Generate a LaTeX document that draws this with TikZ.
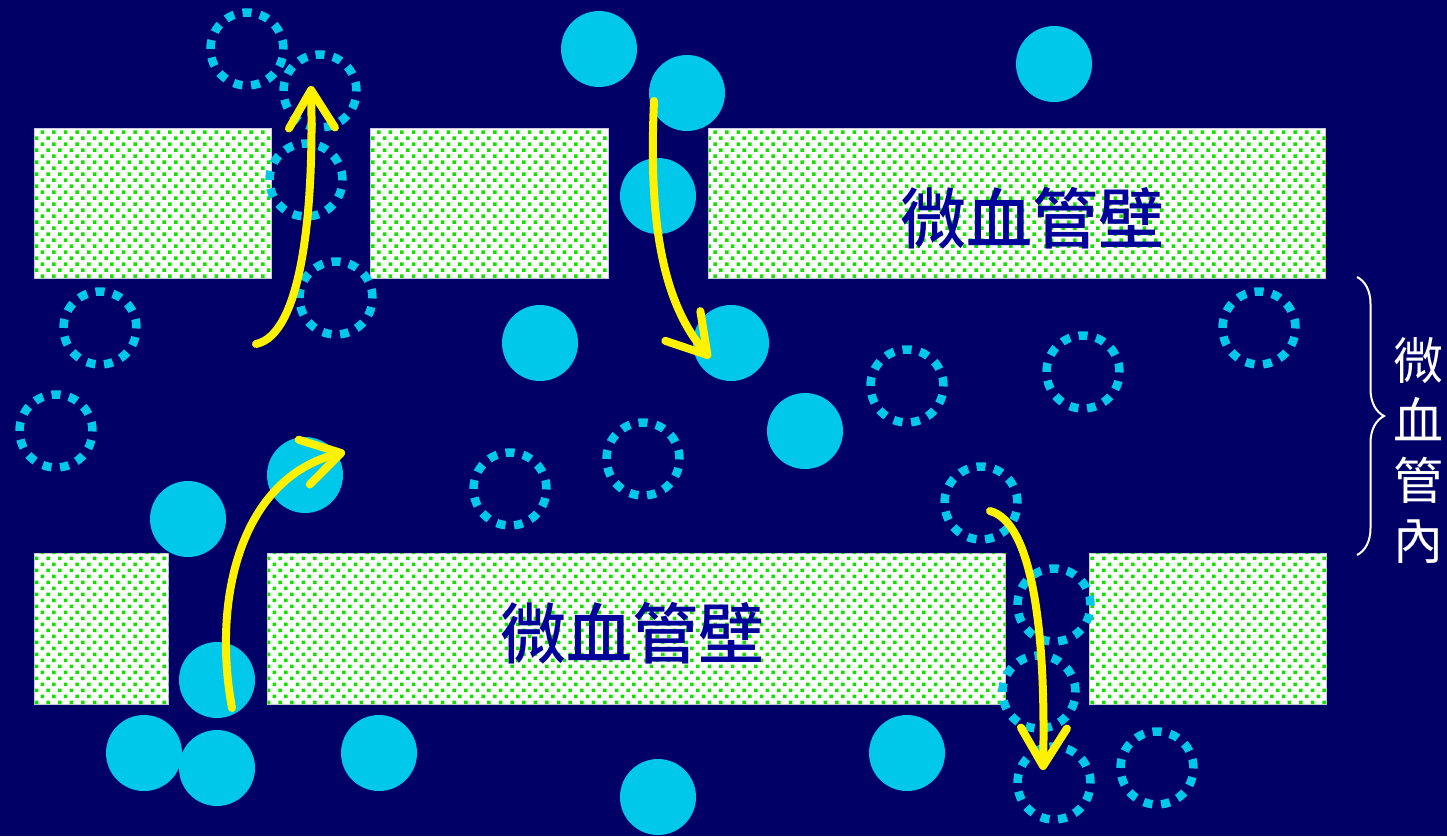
\documentclass[tikz,border=0pt]{standalone}
\usepackage{fontspec}
\newfontfamily\cjk{Noto Sans CJK TC}
\newfontfamily\cjkmid{Noto Sans CJK TC Medium}
\usetikzlibrary{arrows.meta,decorations.pathreplacing,patterns}

\definecolor{bg}{RGB}{0,0,102}
\definecolor{cell}{RGB}{0,200,235}
\definecolor{dotgreen}{RGB}{20,225,0}
\definecolor{walledge}{RGB}{200,200,225}
\definecolor{label}{RGB}{0,0,155}

% staggered grid of small square dots for the vessel wall
\pgfdeclarepatternformonly{walldots}{\pgfqpoint{0pt}{0pt}}{\pgfqpoint{9.3pt}{9.5pt}}{\pgfqpoint{11.6pt}{12pt}}{%
  \pgfpathrectangle{\pgfqpoint{0pt}{0pt}}{\pgfqpoint{3.5pt}{3.5pt}}%
  \pgfpathrectangle{\pgfqpoint{5.8pt}{6pt}}{\pgfqpoint{3.5pt}{3.5pt}}%
  \pgfusepath{fill}}

\tikzset{
  wall/.style={rectangle, inner sep=0pt, anchor=north west, fill=white,
    draw=walledge, line width=1pt,
    postaction={pattern=walldots, pattern color=dotgreen}},
  solidcell/.style={circle, inner sep=0pt, minimum size=76pt, fill=cell},
  ghostcell/.style={circle, inner sep=0pt, minimum size=73pt, draw=cell,
    line width=8.5pt, dash pattern=on 9pt off 8.6pt},
  flow/.style={yellow, line width=8pt, line cap=round,
    -{Straight Barb[length=38pt, width=46pt, round]}},
  walltext/.style={text=label, font=\cjkmid\fontsize{66}{66}\selectfont, inner sep=0pt},
}

\begin{document}
\begin{tikzpicture}[x=1pt, y=-1pt]
  \fill[bg] (0,0) rectangle (1447,836);
  \useasboundingbox (0,0) rectangle (1447,836);

  % vessel wall segments
  \node[wall, minimum width=237pt, minimum height=150pt] (wa) at (34,128) {};
  \node[wall, minimum width=238pt, minimum height=150pt] (wb) at (370,128) {};
  \node[wall, minimum width=617pt, minimum height=150pt] (wc) at (708,128) {};
  \node[wall, minimum width=134pt, minimum height=151pt] (wd) at (34,553) {};
  \node[wall, minimum width=738pt, minimum height=151pt] (we) at (267,553) {};
  \node[wall, minimum width=237pt, minimum height=151pt] (wf) at (1089,553) {};

  \node[walltext] (ltop) at (1032,218) {微血管壁};
  \node[walltext] (lbot) at (632,633) {微血管壁};

  % cells present
  \foreach \px/\py [count=\i] in {599/49, 687/93, 658/196, 1054/64, 540/343,
      731/343, 805/431, 305/475, 188/519, 217/680, 144/753, 217/768,
      379/753, 658/797, 907/753}
    \node[solidcell] (s\i) at (\px,\py) {};

  % former cell positions
  \foreach \px/\py [count=\i] in {247/49, 320/91, 306/180, 336/298, 100/328,
      56/431, 510/489, 643/459, 907/386, 1083/372, 1259/328, 981/503,
      1054/605, 1039/692, 1054/783, 1157/768}
    \node[ghostcell] (g\i) at (\px,\py) {};

  % migration paths
  \coordinate (a1s) at (256,344);  \coordinate (a1e) at (311,86);
  \coordinate (a2s) at (654,101);  \coordinate (a2e) at (710,358);
  \coordinate (a3s) at (232,708);  \coordinate (a3e) at (345,452);
  \coordinate (a4s) at (990,511);  \coordinate (a4e) at (1043,770);

  \draw[flow] (a1s) .. controls (300,335) and (314,220) .. (a1e);
  \draw[flow] (a2s) .. controls (648,230) and (665,305) .. (a2e);
  \draw[flow] (a3s) .. controls (212,600) and (240,478) .. (a3e);
  \draw[flow] (a4s) .. controls (1032,522) and (1046,630) .. (a4e);

  % lumen label with brace
  \coordinate (b1) at (1357,277);
  \coordinate (b2) at (1357,555);
  \draw[white, line width=2pt, decorate, decoration={brace, amplitude=27pt}] (b1) -- (b2);
  \node[text=white, align=center, inner sep=0pt,
    font=\cjk\fontsize{50}{60}\selectfont] (lumen) at (1418,450) {微\\血\\管\\內};
\end{tikzpicture}
\end{document}
